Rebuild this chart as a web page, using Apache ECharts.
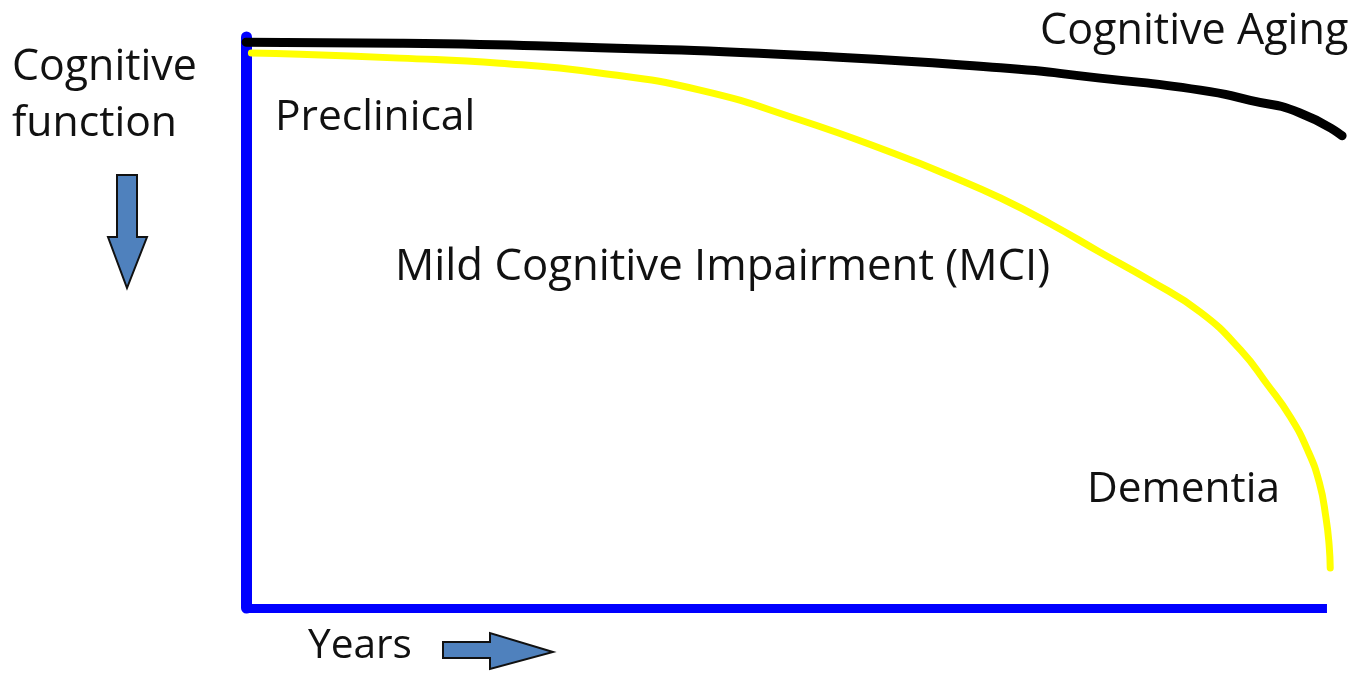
<!DOCTYPE html>
<html>
<head>
<meta charset="utf-8">
<script src="https://cdn.jsdelivr.net/npm/echarts@6/dist/echarts.min.js"></script>
<style>
html,body{margin:0;padding:0;background:#fff;}
#chart{width:1367px;height:675px;}
</style>
</head>
<body>
<div id="chart"></div>
<script>
// ---- data (conceptual curves) ----
var agingYears   = [0, 14.2, 32.7, 51.2, 69.8, 79.0, 88.3, 92.9, 97.5, 101.4];
var agingValues  = [99.1, 98.9, 98.1, 96.8, 94.6, 92.8, 90.7, 88.9, 86.7, 82.7];
var declineYears  = [0.5, 5.0, 14.2, 23.5, 32.7, 42.0, 51.2, 60.5, 65.1, 69.8, 74.4, 79.0, 83.6, 88.3, 92.0, 94.5, 96.6, 98.2, 99.3, 99.9, 100.2, 100.3];
var declineValues = [97.2, 97.0, 96.3, 95.4, 93.7, 90.7, 85.5, 79.2, 75.7, 71.8, 67.3, 62.3, 57.4, 51.8, 45.2, 39.1, 33.5, 27.7, 21.9, 15.9, 11.0, 7.0];
var yearsAxisEnd = 100;   // where the horizontal "Years" axis line stops
var seriesNames = ['Cognitive Aging', 'Cognitive decline'];
var labelTexts = ['Cognitive Aging', 'Cognitive', 'function', 'Preclinical', 'Mild Cognitive Impairment (MCI)', 'Dementia', 'Years'];

function pairs(xs, ys){ return xs.map(function(x,i){ return [x, ys[i]]; }); }

var FAMILY = '"Open Sans", "Noto Sans", sans-serif';
var mctx = document.createElement('canvas').getContext('2d');
function fit(text, width){
  mctx.font = '100px ' + FAMILY;
  return 100 * width / mctx.measureText(text).width;
}
function label(text, x, y, width){
  return {
    type: 'text', x: x, y: y,
    style: { text: text, fill: '#111', font: fit(text, width).toFixed(1) + 'px ' + FAMILY, align: 'left', verticalAlign: 'middle' }
  };
}

var chart = echarts.init(document.getElementById('chart'), null, {renderer: 'canvas'});
chart.setOption({
  animation: false,
  backgroundColor: '#fff',
  grid: { left: 246, right: 18.4, top: 37, bottom: 67 },
  xAxis: {
    type: 'value', min: 0, max: 102,
    axisLine: { show: false },
    axisTick: { show: false }, axisLabel: { show: false }, splitLine: { show: false }
  },
  yAxis: {
    type: 'value', min: 0, max: 100,
    axisLine: { show: true, lineStyle: { color: '#0000ff', width: 11 } },
    axisTick: { show: false }, axisLabel: { show: false }, splitLine: { show: false }
  },
  series: [
    {
      name: seriesNames[0], type: 'line', data: pairs(agingYears, agingValues),
      smooth: 0.6, showSymbol: false, z: 3,
      lineStyle: { color: '#000', width: 9, cap: 'round' },
      markLine: {
        silent: true, symbol: ['none', 'none'], label: { show: false }, z: 1,
        lineStyle: { color: '#0000ff', width: 9, type: 'solid' },
        data: [[{ coord: [0, 0] }, { coord: [yearsAxisEnd, 0] }]]
      }
    },
    {
      name: seriesNames[1], type: 'line', data: pairs(declineYears, declineValues),
      smooth: 0.5, showSymbol: false, z: 4,
      lineStyle: { color: '#ffff00', width: 7, cap: 'round' }
    }
  ],
  graphic: [
    label(labelTexts[0], 1040, 32, 308),
    label(labelTexts[1], 12, 68, 185),
    label(labelTexts[2], 12, 124, 165),
    label(labelTexts[3], 275, 118, 200),
    label(labelTexts[4], 395, 268, 655),
    label(labelTexts[5], 1087, 490, 193),
    label(labelTexts[6], 308, 646, 104),
    {
      type: 'polygon',
      shape: { points: [[117,175],[137,175],[137,237],[147,237],[127,288],[108,237],[117,237]] },
      style: { fill: '#4F81BD', stroke: '#111', lineWidth: 2 }
    },
    {
      type: 'polygon',
      shape: { points: [[443,642],[490,642],[490,633],[553,652],[490,669],[490,658],[443,658]] },
      style: { fill: '#4F81BD', stroke: '#111', lineWidth: 2 }
    }
  ]
});
</script>
</body>
</html>
